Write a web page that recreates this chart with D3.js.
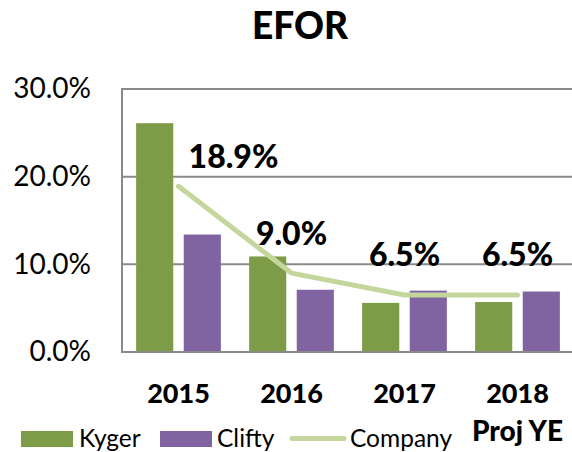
<!DOCTYPE html>
<html>
<head>
<meta charset="utf-8">
<script src="https://cdn.jsdelivr.net/npm/d3@7"></script>
<style>
  html, body { margin: 0; padding: 0; background: #fff; }
  svg { display: block; font-family: Lato, "Open Sans", sans-serif; }
</style>
</head>
<body>
<svg id="chart" width="572" height="452"></svg>
<script>
// ---- data ----
const categories = ["2015", "2016", "2017", "2018"];
const categorySubLabels = ["", "", "", "Proj YE"];
const seriesNames = ["Kyger", "Clifty"];
const kyger = [0.261, 0.109, 0.056, 0.057];
const clifty = [0.134, 0.071, 0.070, 0.069];
const company = [0.189, 0.090, 0.065, 0.065];
const companyLabels = ["18.9%", "9.0%", "6.5%", "6.5%"];
const yTicks = [0, 0.1, 0.2, 0.3];

// ---- layout ----
const colors = { Kyger: "#7e9b48", Clifty: "#8064a2", Company: "#c3d69b" };
const labelOffsets = [[55, -18], [0, -28], [0, -29], [0, -29]];
const plot = { left: 122, right: 574, top: 89, bottom: 352 };

const svg = d3.select("#chart");

const x = d3.scaleBand().domain(categories).range([plot.left, plot.right])
  .paddingInner(0.25).paddingOuter(0.125);
const xs = d3.scaleBand().domain(seriesNames).range([0, x.bandwidth()]).paddingInner(0.22);
const y = d3.scaleLinear().domain([0, 0.3]).range([plot.bottom, plot.top]);

// title
svg.append("text").attr("x", 300).attr("y", 39).attr("text-anchor", "middle")
  .attr("font-size", 37).attr("font-weight", 900).attr("fill", "#000").text("EFOR");

// gridlines
svg.append("g").selectAll("line").data(yTicks.filter(d => d > 0)).join("line")
  .attr("x1", plot.left).attr("x2", 572)
  .attr("y1", d => y(d)).attr("y2", d => y(d))
  .attr("stroke", "#8a8a8a").attr("stroke-width", 2);

// y axis
const yAxis = d3.axisLeft(y).tickValues(yTicks).tickFormat(d3.format(".1%")).tickSize(0).tickPadding(31);
const gy = svg.append("g").attr("transform", `translate(${plot.left},0)`).call(yAxis);
gy.select(".domain").remove();
gy.selectAll("text").attr("font-size", 28).attr("font-family", "Lato, sans-serif").attr("fill", "#000");

// bars
const rows = categories.map((c, i) => ({ cat: c, vals: [
  { name: "Kyger", v: kyger[i] }, { name: "Clifty", v: clifty[i] } ] }));
svg.append("g").selectAll("g").data(rows).join("g")
  .attr("transform", d => `translate(${x(d.cat)},0)`)
  .selectAll("rect").data(d => d.vals).join("rect")
  .attr("x", d => xs(d.name)).attr("width", xs.bandwidth())
  .attr("y", d => y(d.v)).attr("height", d => y(0) - y(d.v))
  .attr("fill", d => colors[d.name]);

// axis lines (left + bottom)
svg.append("line").attr("x1", plot.left).attr("x2", plot.left).attr("y1", plot.top - 1).attr("y2", plot.bottom)
  .attr("stroke", "#8a8a8a").attr("stroke-width", 2);
svg.append("line").attr("x1", plot.left - 1).attr("x2", 572).attr("y1", plot.bottom).attr("y2", plot.bottom)
  .attr("stroke", "#8a8a8a").attr("stroke-width", 2);

// company line
const cx = d => x(d) + x.bandwidth() / 2;
const line = d3.line().x((d, i) => cx(categories[i])).y(d => y(d));
svg.append("path").datum(company).attr("d", line).attr("fill", "none")
  .attr("stroke", colors.Company).attr("stroke-width", 5)
  .attr("stroke-linecap", "round").attr("stroke-linejoin", "round");

// data labels
svg.append("g").selectAll("text").data(company).join("text")
  .attr("x", (d, i) => cx(categories[i]) + labelOffsets[i][0])
  .attr("y", (d, i) => y(d) + labelOffsets[i][1])
  .attr("text-anchor", "middle").attr("font-size", 32).attr("font-weight", 900).attr("fill", "#000")
  .text((d, i) => companyLabels[i]);

// x labels
const gx = svg.append("g");
gx.selectAll("text.cat").data(categories).join("text").attr("class", "cat")
  .attr("x", d => cx(d)).attr("y", 403).attr("text-anchor", "middle")
  .attr("font-size", 27).attr("font-weight", 900).text(d => d);
gx.selectAll("text.sub").data(categories.map((c, i) => [c, categorySubLabels[i]]).filter(d => d[1])).join("text")
  .attr("class", "sub").attr("x", d => cx(d[0])).attr("y", 441).attr("text-anchor", "middle")
  .attr("font-size", 28).attr("font-weight", 900).text(d => d[1]);

// legend
const legend = [
  { name: "Kyger", type: "rect", sx: 21, tx: 79 },
  { name: "Clifty", type: "rect", sx: 160, tx: 217 },
  { name: "Company", type: "line", sx: 290, tx: 350 }
];
const lg = svg.append("g");
legend.forEach(l => {
  if (l.type === "rect") {
    lg.append("rect").attr("x", l.sx).attr("y", 431).attr("width", 52).attr("height", 16).attr("fill", colors[l.name]);
  } else {
    lg.append("line").attr("x1", l.sx + 2).attr("x2", l.sx + 54).attr("y1", 438.5).attr("y2", 438.5)
      .attr("stroke", colors[l.name]).attr("stroke-width", 5).attr("stroke-linecap", "round");
  }
  lg.append("text").attr("x", l.tx).attr("y", 446.5).attr("font-size", 24.5).attr("fill", "#000").text(l.name);
});
</script>
</body>
</html>
